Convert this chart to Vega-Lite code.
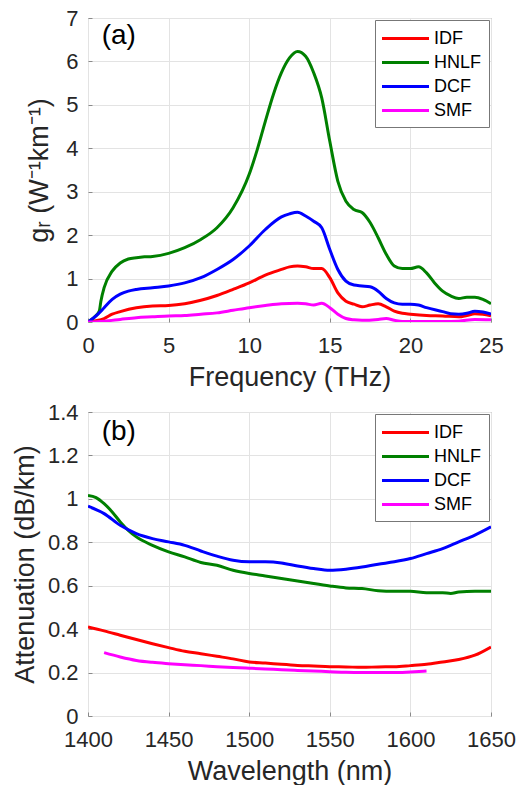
{
  "$schema": "https://vega.github.io/schema/vega-lite/v6.json",
  "background": "white",
  "padding": {"left": 10, "top": 6, "right": 25, "bottom": 0},
  "spacing": 9,
  "config": {
    "font": "Liberation Sans",
    "view": {"stroke": "#8a8a8a", "strokeWidth": 1},
    "axis": {
      "labelFont": "Liberation Sans",
      "titleFont": "Liberation Sans",
      "labelFontSize": 22,
      "labelColor": "#262626",
      "titleFontSize": 27,
      "titleColor": "#262626",
      "titleFontWeight": "normal",
      "domain": false,
      "ticks": true,
      "tickSize": -4,
      "tickColor": "#8a8a8a",
      "labelFlush": false,
      "gridColor": "#e3e3e3",
      "labelPadding": 14,
      "titlePadding": 8
    },
    "axisX": {"labelPadding": 17},
    "legend": {
      "orient": "top-right",
      "offset": 2,
      "title": null,
      "symbolType": "M-2.35,0H2.35",
      "symbolSize": 400,
      "symbolStrokeWidth": 3,
      "symbolOffset": 12,
      "labelOffset": 17,
      "labelFont": "Liberation Sans",
      "labelFontSize": 18,
      "labelColor": "#000000",
      "rowPadding": 3,
      "padding": 7,
      "strokeColor": "#777777",
      "fillColor": "white"
    }
  },
  "resolve": {"scale": {"color": "independent"}},
  "datasets": {
    "a": [
      {"k":"IDF","x":0,"y":0},{"k":"IDF","x":0.5,"y":0.03},{"k":"IDF","x":1,"y":0.08},{"k":"IDF","x":1.5,"y":0.18},{"k":"IDF","x":2,"y":0.24},{"k":"IDF","x":3,"y":0.33},{"k":"IDF","x":4,"y":0.37},{"k":"IDF","x":5,"y":0.38},{"k":"IDF","x":6,"y":0.42},{"k":"IDF","x":7,"y":0.5},{"k":"IDF","x":8,"y":0.61},{"k":"IDF","x":9,"y":0.75},{"k":"IDF","x":10,"y":0.9},{"k":"IDF","x":11,"y":1.08},{"k":"IDF","x":12,"y":1.21},{"k":"IDF","x":12.5,"y":1.27},{"k":"IDF","x":13,"y":1.29},{"k":"IDF","x":13.5,"y":1.27},{"k":"IDF","x":14,"y":1.23},{"k":"IDF","x":14.5,"y":1.23},{"k":"IDF","x":15,"y":1.02},{"k":"IDF","x":15.5,"y":0.67},{"k":"IDF","x":16,"y":0.48},{"k":"IDF","x":16.5,"y":0.41},{"k":"IDF","x":17,"y":0.35},{"k":"IDF","x":17.5,"y":0.39},{"k":"IDF","x":18,"y":0.42},{"k":"IDF","x":18.5,"y":0.35},{"k":"IDF","x":19,"y":0.25},{"k":"IDF","x":19.5,"y":0.2},{"k":"IDF","x":20,"y":0.18},{"k":"IDF","x":21,"y":0.15},{"k":"IDF","x":22,"y":0.14},{"k":"IDF","x":23,"y":0.12},{"k":"IDF","x":23.5,"y":0.15},{"k":"IDF","x":24,"y":0.19},{"k":"IDF","x":24.5,"y":0.18},{"k":"IDF","x":25,"y":0.14},
      {"k":"HNLF","x":0,"y":0},{"k":"HNLF","x":0.5,"y":0.15},{"k":"HNLF","x":0.7,"y":0.25},{"k":"HNLF","x":0.8,"y":0.48},{"k":"HNLF","x":1,"y":0.79},{"k":"HNLF","x":1.5,"y":1.17},{"k":"HNLF","x":2,"y":1.36},{"k":"HNLF","x":2.5,"y":1.45},{"k":"HNLF","x":3,"y":1.48},{"k":"HNLF","x":3.5,"y":1.5},{"k":"HNLF","x":4,"y":1.51},{"k":"HNLF","x":5,"y":1.58},{"k":"HNLF","x":6,"y":1.71},{"k":"HNLF","x":7,"y":1.9},{"k":"HNLF","x":8,"y":2.17},{"k":"HNLF","x":9,"y":2.63},{"k":"HNLF","x":10,"y":3.4},{"k":"HNLF","x":10.5,"y":3.97},{"k":"HNLF","x":11,"y":4.62},{"k":"HNLF","x":11.5,"y":5.24},{"k":"HNLF","x":12,"y":5.74},{"k":"HNLF","x":12.5,"y":6.08},{"k":"HNLF","x":13,"y":6.23},{"k":"HNLF","x":13.5,"y":6.12},{"k":"HNLF","x":14,"y":5.74},{"k":"HNLF","x":14.5,"y":5.16},{"k":"HNLF","x":15,"y":4.16},{"k":"HNLF","x":15.5,"y":3.24},{"k":"HNLF","x":16,"y":2.78},{"k":"HNLF","x":16.5,"y":2.59},{"k":"HNLF","x":17,"y":2.52},{"k":"HNLF","x":17.5,"y":2.29},{"k":"HNLF","x":18,"y":1.94},{"k":"HNLF","x":18.5,"y":1.56},{"k":"HNLF","x":19,"y":1.29},{"k":"HNLF","x":19.5,"y":1.23},{"k":"HNLF","x":20,"y":1.23},{"k":"HNLF","x":20.5,"y":1.27},{"k":"HNLF","x":21,"y":1.13},{"k":"HNLF","x":21.5,"y":0.9},{"k":"HNLF","x":22,"y":0.71},{"k":"HNLF","x":22.5,"y":0.6},{"k":"HNLF","x":23,"y":0.54},{"k":"HNLF","x":23.5,"y":0.57},{"k":"HNLF","x":24,"y":0.57},{"k":"HNLF","x":24.5,"y":0.52},{"k":"HNLF","x":25,"y":0.42},
      {"k":"DCF","x":0,"y":0},{"k":"DCF","x":0.5,"y":0.14},{"k":"DCF","x":0.8,"y":0.25},{"k":"DCF","x":1,"y":0.33},{"k":"DCF","x":1.5,"y":0.52},{"k":"DCF","x":2,"y":0.64},{"k":"DCF","x":2.5,"y":0.71},{"k":"DCF","x":3,"y":0.75},{"k":"DCF","x":4,"y":0.79},{"k":"DCF","x":5,"y":0.83},{"k":"DCF","x":6,"y":0.9},{"k":"DCF","x":7,"y":1.02},{"k":"DCF","x":8,"y":1.21},{"k":"DCF","x":9,"y":1.44},{"k":"DCF","x":10,"y":1.75},{"k":"DCF","x":11,"y":2.13},{"k":"DCF","x":12,"y":2.42},{"k":"DCF","x":12.5,"y":2.49},{"k":"DCF","x":13,"y":2.53},{"k":"DCF","x":13.5,"y":2.44},{"k":"DCF","x":14,"y":2.32},{"k":"DCF","x":14.5,"y":2.17},{"k":"DCF","x":15,"y":1.67},{"k":"DCF","x":15.5,"y":1.21},{"k":"DCF","x":16,"y":0.94},{"k":"DCF","x":16.5,"y":0.85},{"k":"DCF","x":17,"y":0.83},{"k":"DCF","x":17.5,"y":0.81},{"k":"DCF","x":18,"y":0.71},{"k":"DCF","x":18.5,"y":0.54},{"k":"DCF","x":19,"y":0.44},{"k":"DCF","x":19.5,"y":0.41},{"k":"DCF","x":20,"y":0.41},{"k":"DCF","x":20.5,"y":0.39},{"k":"DCF","x":21,"y":0.33},{"k":"DCF","x":22,"y":0.24},{"k":"DCF","x":22.5,"y":0.19},{"k":"DCF","x":23,"y":0.18},{"k":"DCF","x":23.5,"y":0.2},{"k":"DCF","x":24,"y":0.25},{"k":"DCF","x":24.5,"y":0.23},{"k":"DCF","x":25,"y":0.18},
      {"k":"SMF","x":0,"y":0},{"k":"SMF","x":1,"y":0.02},{"k":"SMF","x":2,"y":0.06},{"k":"SMF","x":3,"y":0.1},{"k":"SMF","x":4,"y":0.12},{"k":"SMF","x":5,"y":0.14},{"k":"SMF","x":6,"y":0.15},{"k":"SMF","x":7,"y":0.18},{"k":"SMF","x":8,"y":0.21},{"k":"SMF","x":9,"y":0.27},{"k":"SMF","x":10,"y":0.33},{"k":"SMF","x":11,"y":0.38},{"k":"SMF","x":12,"y":0.42},{"k":"SMF","x":13,"y":0.43},{"k":"SMF","x":13.5,"y":0.42},{"k":"SMF","x":14,"y":0.39},{"k":"SMF","x":14.5,"y":0.43},{"k":"SMF","x":15,"y":0.33},{"k":"SMF","x":15.5,"y":0.18},{"k":"SMF","x":16,"y":0.08},{"k":"SMF","x":16.5,"y":0.05},{"k":"SMF","x":17,"y":0.04},{"k":"SMF","x":18,"y":0.06},{"k":"SMF","x":18.5,"y":0.08},{"k":"SMF","x":19,"y":0.04},{"k":"SMF","x":19.5,"y":0.01},{"k":"SMF","x":20,"y":0.01},{"k":"SMF","x":21,"y":0.01},{"k":"SMF","x":22,"y":0.01},{"k":"SMF","x":23,"y":0.02},{"k":"SMF","x":24,"y":0.06},{"k":"SMF","x":25,"y":0.05}
    ],
    "b": [
      {"k":"IDF","x":1400,"y":0.41},{"k":"IDF","x":1410,"y":0.392},{"k":"IDF","x":1420,"y":0.372},{"k":"IDF","x":1430,"y":0.352},{"k":"IDF","x":1440,"y":0.333},{"k":"IDF","x":1450,"y":0.315},{"k":"IDF","x":1460,"y":0.298},{"k":"IDF","x":1470,"y":0.287},{"k":"IDF","x":1480,"y":0.275},{"k":"IDF","x":1490,"y":0.263},{"k":"IDF","x":1500,"y":0.249},{"k":"IDF","x":1510,"y":0.244},{"k":"IDF","x":1520,"y":0.238},{"k":"IDF","x":1530,"y":0.233},{"k":"IDF","x":1540,"y":0.23},{"k":"IDF","x":1550,"y":0.227},{"k":"IDF","x":1560,"y":0.226},{"k":"IDF","x":1570,"y":0.224},{"k":"IDF","x":1580,"y":0.226},{"k":"IDF","x":1590,"y":0.227},{"k":"IDF","x":1600,"y":0.232},{"k":"IDF","x":1610,"y":0.238},{"k":"IDF","x":1620,"y":0.249},{"k":"IDF","x":1630,"y":0.26},{"k":"IDF","x":1640,"y":0.28},{"k":"IDF","x":1650,"y":0.318},
      {"k":"HNLF","x":1400,"y":1.016},{"k":"HNLF","x":1405,"y":1.006},{"k":"HNLF","x":1410,"y":0.978},{"k":"HNLF","x":1415,"y":0.94},{"k":"HNLF","x":1420,"y":0.894},{"k":"HNLF","x":1425,"y":0.855},{"k":"HNLF","x":1430,"y":0.825},{"k":"HNLF","x":1440,"y":0.786},{"k":"HNLF","x":1450,"y":0.756},{"k":"HNLF","x":1460,"y":0.733},{"k":"HNLF","x":1470,"y":0.707},{"k":"HNLF","x":1480,"y":0.694},{"k":"HNLF","x":1490,"y":0.671},{"k":"HNLF","x":1500,"y":0.656},{"k":"HNLF","x":1510,"y":0.645},{"k":"HNLF","x":1520,"y":0.633},{"k":"HNLF","x":1530,"y":0.622},{"k":"HNLF","x":1540,"y":0.61},{"k":"HNLF","x":1550,"y":0.599},{"k":"HNLF","x":1560,"y":0.59},{"k":"HNLF","x":1570,"y":0.587},{"k":"HNLF","x":1580,"y":0.577},{"k":"HNLF","x":1590,"y":0.574},{"k":"HNLF","x":1600,"y":0.574},{"k":"HNLF","x":1610,"y":0.568},{"k":"HNLF","x":1620,"y":0.568},{"k":"HNLF","x":1625,"y":0.564},{"k":"HNLF","x":1630,"y":0.571},{"k":"HNLF","x":1640,"y":0.574},{"k":"HNLF","x":1650,"y":0.574},
      {"k":"DCF","x":1400,"y":0.966},{"k":"DCF","x":1410,"y":0.932},{"k":"DCF","x":1420,"y":0.878},{"k":"DCF","x":1430,"y":0.84},{"k":"DCF","x":1440,"y":0.817},{"k":"DCF","x":1450,"y":0.802},{"k":"DCF","x":1460,"y":0.786},{"k":"DCF","x":1470,"y":0.76},{"k":"DCF","x":1480,"y":0.736},{"k":"DCF","x":1490,"y":0.717},{"k":"DCF","x":1500,"y":0.71},{"k":"DCF","x":1510,"y":0.71},{"k":"DCF","x":1520,"y":0.705},{"k":"DCF","x":1530,"y":0.691},{"k":"DCF","x":1540,"y":0.679},{"k":"DCF","x":1550,"y":0.671},{"k":"DCF","x":1560,"y":0.676},{"k":"DCF","x":1570,"y":0.686},{"k":"DCF","x":1580,"y":0.699},{"k":"DCF","x":1590,"y":0.71},{"k":"DCF","x":1600,"y":0.725},{"k":"DCF","x":1610,"y":0.748},{"k":"DCF","x":1620,"y":0.771},{"k":"DCF","x":1630,"y":0.802},{"k":"DCF","x":1640,"y":0.833},{"k":"DCF","x":1650,"y":0.871},
      {"k":"SMF","x":1410,"y":0.292},{"k":"SMF","x":1420,"y":0.272},{"k":"SMF","x":1430,"y":0.256},{"k":"SMF","x":1440,"y":0.247},{"k":"SMF","x":1450,"y":0.241},{"k":"SMF","x":1460,"y":0.236},{"k":"SMF","x":1470,"y":0.232},{"k":"SMF","x":1480,"y":0.227},{"k":"SMF","x":1490,"y":0.223},{"k":"SMF","x":1500,"y":0.22},{"k":"SMF","x":1510,"y":0.217},{"k":"SMF","x":1520,"y":0.213},{"k":"SMF","x":1530,"y":0.21},{"k":"SMF","x":1540,"y":0.207},{"k":"SMF","x":1550,"y":0.204},{"k":"SMF","x":1560,"y":0.201},{"k":"SMF","x":1570,"y":0.2},{"k":"SMF","x":1580,"y":0.2},{"k":"SMF","x":1590,"y":0.2},{"k":"SMF","x":1600,"y":0.203},{"k":"SMF","x":1610,"y":0.207}
    ]
  },
  "vconcat": [
    {
      "width": 403,
      "height": 304,
      "layer": [
        {
          "data": {"name": "a"},
          "mark": {"type": "line", "strokeWidth": 3, "interpolate": "monotone", "clip": true},
          "encoding": {
            "x": {"field": "x", "type": "quantitative", "scale": {"domain": [0, 25], "nice": false}, "axis": {"values": [0, 5, 10, 15, 20, 25], "title": "Frequency (THz)"}},
            "y": {"field": "y", "type": "quantitative", "scale": {"domain": [0, 7], "nice": false}, "axis": {"values": [0, 1, 2, 3, 4, 5, 6, 7], "title": "gᵣ (W⁻¹km⁻¹)", "titlePadding": 12}},
            "color": {"field": "k", "type": "nominal", "scale": {"domain": ["IDF", "HNLF", "DCF", "SMF"], "range": ["#ff0000", "#008000", "#0000ff", "#ff00ff"]}}
          }
        },
        {
          "data": {"values": [{"label": "(a)"}]},
          "mark": {"type": "text", "align": "left", "baseline": "middle", "fontSize": 28, "fontWeight": "normal", "font": "Liberation Sans", "fill": "#000000"},
          "encoding": {"text": {"field": "label"}, "x": {"datum": 0.85}, "y": {"datum": 6.58}}
        }
      ]
    },
    {
      "width": 403,
      "height": 304,
      "layer": [
        {
          "data": {"name": "b"},
          "mark": {"type": "line", "strokeWidth": 3, "interpolate": "monotone", "clip": true},
          "encoding": {
            "x": {"field": "x", "type": "quantitative", "scale": {"domain": [1400, 1650], "nice": false}, "axis": {"values": [1400, 1450, 1500, 1550, 1600, 1650], "format": "d", "title": "Wavelength (nm)"}},
            "y": {"field": "y", "type": "quantitative", "scale": {"domain": [0, 1.4], "nice": false}, "axis": {"values": [0, 0.2, 0.4, 0.6, 0.8, 1, 1.2, 1.4], "format": "~g", "title": "Attenuation (dB/km)"}},
            "color": {"field": "k", "type": "nominal", "scale": {"domain": ["IDF", "HNLF", "DCF", "SMF"], "range": ["#ff0000", "#008000", "#0000ff", "#ff00ff"]}}
          }
        },
        {
          "data": {"values": [{"label": "(b)"}]},
          "mark": {"type": "text", "align": "left", "baseline": "middle", "fontSize": 28, "fontWeight": "normal", "font": "Liberation Sans", "fill": "#000000"},
          "encoding": {"text": {"field": "label"}, "x": {"datum": 1408.5}, "y": {"datum": 1.308}}
        }
      ]
    }
  ]
}
